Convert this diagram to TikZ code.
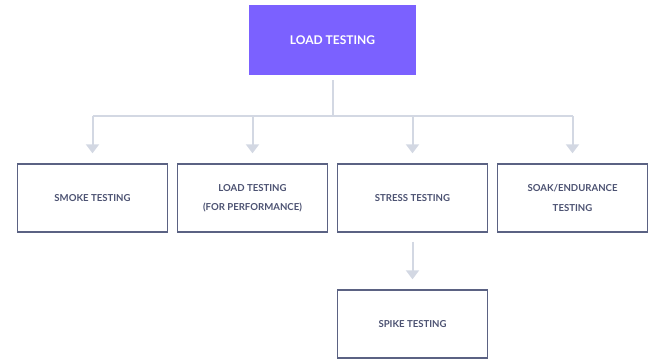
\documentclass[tikz,border=0pt]{standalone}
\usepackage{fontspec}
\setmainfont{Lato}
\usetikzlibrary{arrows.meta}
\definecolor{topfill}{HTML}{7B61FF}
\definecolor{boxline}{HTML}{5B6283}
\definecolor{boxtext}{HTML}{4C5272}
\definecolor{linkcol}{HTML}{D3D8E3}
\tikzset{
  topbox/.style={fill=topfill, draw=none, minimum width=167pt, minimum height=70pt,
    text=white, font=\fontsize{12}{14}\selectfont\bfseries, inner sep=0pt},
  kindbox/.style={draw=boxline, line width=1.4pt, fill=white, minimum width=150pt,
    minimum height=68pt, text=boxtext, align=center,
    font=\fontsize{9.6}{19.5}\selectfont\bfseries, inner sep=0pt},
  link/.style={draw=linkcol, line width=2pt},
  linkarrow/.style={link, -{Triangle[width=13pt,length=9pt]}, shorten >=10pt}
}
\begin{document}
\begin{tikzpicture}[x=1pt,y=-1pt]
  \useasboundingbox (0,0) rectangle (650,361);
  \node[topbox] (top) at (332.5,40) {LOAD TESTING};
  \node[kindbox] (smoke) at (92.5,198) {SMOKE TESTING};
  \node[kindbox] (perf) at (252.5,198) {LOAD TESTING\\(FOR PERFORMANCE)};
  \node[kindbox] (stress) at (412.5,198) {STRESS TESTING};
  \node[kindbox] (soak) at (572.5,198) {SOAK/ENDURANCE\\TESTING};
  \node[kindbox] (spike) at (412.5,324) {SPIKE TESTING};
  % branching connectors
  \coordinate (hub) at (332.5,116);
  \draw[link] ([yshift=-5pt]top.south) -- (hub);
  \draw[link] (smoke.north |- hub) -- (soak.north |- hub);
  \foreach \n in {smoke,perf,stress,soak}
    \draw[linkarrow] (\n.north |- hub) -- (\n.north);
  \draw[linkarrow] ([yshift=-9pt]stress.south) -- (spike.north);
\end{tikzpicture}
\end{document}
